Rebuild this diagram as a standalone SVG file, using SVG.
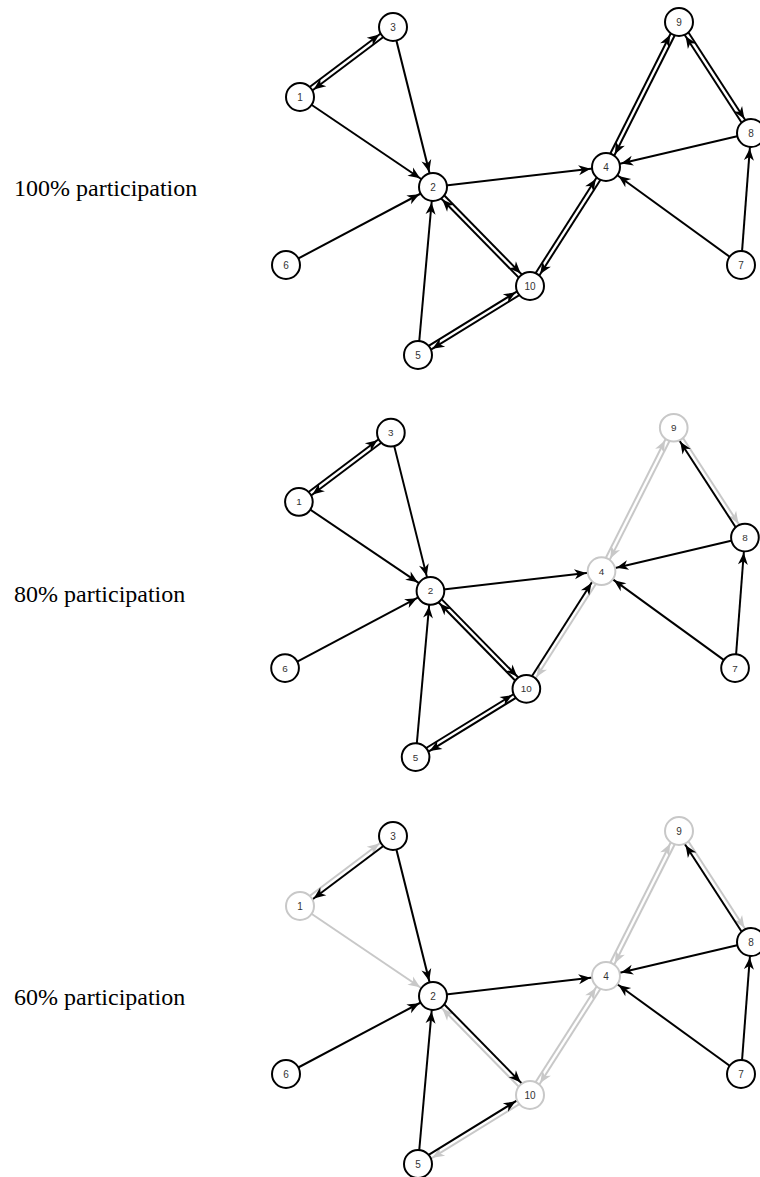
<svg xmlns="http://www.w3.org/2000/svg" width="760" height="1177" viewBox="0 0 760 1177">
  <style>
    .e { fill: none; stroke: #000; stroke-width: 2; marker-end: url(#ah); }
    .g { stroke: #c8c8c8; marker-end: url(#ahg); }
    .n circle { fill: #fff; stroke: #000; stroke-width: 2; }
    .n.off circle { stroke: #c8c8c8; }
    .n text { font-family: "Liberation Sans", Arial, sans-serif; font-size: 10px; fill: #333; text-anchor: middle; dominant-baseline: central; }
    .cap { font-family: "Liberation Serif", "Times New Roman", serif; font-size: 24px; fill: #000; }
  </style>
  <defs>
    <!-- arrowheads stop at the node rim: tip sits 15.5 units before the line end (node centre) -->
    <marker id="ah" markerUnits="userSpaceOnUse" orient="auto" refX="15.5" refY="0" markerWidth="20" markerHeight="20" overflow="visible">
      <path d="M0,0 L-12,-5 L-8.5,0 L-12,5 Z" fill="#000"/>
    </marker>
    <marker id="ahg" markerUnits="userSpaceOnUse" orient="auto" refX="15.5" refY="0" markerWidth="20" markerHeight="20" overflow="visible">
      <path d="M0,0 L-12,-5 L-8.5,0 L-12,5 Z" fill="#c8c8c8"/>
    </marker>
  </defs>

  <rect width="760" height="1177" fill="#fff"/>

  <text class="cap" x="14" y="196">100% participation</text>
  <text class="cap" x="14" y="602">80% participation</text>
  <text class="cap" x="14" y="1005">60% participation</text>

  <!-- ===== 100% ===== -->
  <g id="p100">
    <g id="p100-edges">
      <line class="e" x1="298.68" y1="95.24" x2="391.68" y2="25.24"/>
      <line class="e" x1="394.32" y1="28.76" x2="301.32" y2="98.76"/>
      <line class="e" x1="300" y1="97" x2="433" y2="187"/>
      <line class="e" x1="393" y1="27" x2="433" y2="187"/>
      <line class="e" x1="433" y1="187" x2="606" y2="167"/>
      <line class="e" x1="286" y1="265" x2="433" y2="187"/>
      <line class="e" x1="418" y1="355" x2="433" y2="187"/>
      <line class="e" x1="434.57" y1="185.46" x2="531.57" y2="284.46"/>
      <line class="e" x1="528.43" y1="287.54" x2="431.43" y2="188.54"/>
      <line class="e" x1="416.85" y1="353.13" x2="528.85" y2="284.13"/>
      <line class="e" x1="531.15" y1="287.87" x2="419.15" y2="356.87"/>
      <line class="e" x1="528.15" y1="284.82" x2="604.15" y2="165.82"/>
      <line class="e" x1="607.85" y1="168.18" x2="531.85" y2="287.18"/>
      <line class="e" x1="604.03" y1="166.01" x2="677.03" y2="21.01"/>
      <line class="e" x1="680.97" y1="22.99" x2="607.97" y2="167.99"/>
      <line class="e" x1="680.85" y1="20.8" x2="752.85" y2="131.8"/>
      <line class="e" x1="749.15" y1="134.2" x2="677.15" y2="23.2"/>
      <line class="e" x1="751" y1="133" x2="606" y2="167"/>
      <line class="e" x1="741" y1="265" x2="606" y2="167"/>
      <line class="e" x1="741" y1="265" x2="751" y2="133"/>
    </g>
    <g id="p100-n1" class="n"><circle cx="300" cy="97" r="14"/><text x="300" y="97">1</text></g>
    <g id="p100-n2" class="n"><circle cx="433" cy="187" r="14"/><text x="433" y="187">2</text></g>
    <g id="p100-n3" class="n"><circle cx="393" cy="27" r="14"/><text x="393" y="27">3</text></g>
    <g id="p100-n4" class="n"><circle cx="606" cy="167" r="14"/><text x="606" y="167">4</text></g>
    <g id="p100-n5" class="n"><circle cx="418" cy="355" r="14"/><text x="418" y="355">5</text></g>
    <g id="p100-n6" class="n"><circle cx="286" cy="265" r="14"/><text x="286" y="265">6</text></g>
    <g id="p100-n7" class="n"><circle cx="741" cy="265" r="14"/><text x="741" y="265">7</text></g>
    <g id="p100-n8" class="n"><circle cx="751" cy="133" r="14"/><text x="751" y="133">8</text></g>
    <g id="p100-n9" class="n"><circle cx="679" cy="22" r="14"/><text x="679" y="22">9</text></g>
    <g id="p100-n10" class="n"><circle cx="530" cy="286" r="14"/><text x="530" y="286">10</text></g>
  </g>

  <!-- ===== 80% ===== -->
  <g id="p80" transform="translate(2.2,406) scale(0.989)">
    <g id="p80-edges">
      <line class="e g" x1="604.03" y1="166.01" x2="677.03" y2="21.01"/>
      <line class="e g" x1="680.97" y1="22.99" x2="607.97" y2="167.99"/>
      <line class="e g" x1="680.85" y1="20.8" x2="752.85" y2="131.8"/>
      <line class="e g" x1="607.85" y1="168.18" x2="531.85" y2="287.18"/>
      <line class="e" x1="298.68" y1="95.24" x2="391.68" y2="25.24"/>
      <line class="e" x1="394.32" y1="28.76" x2="301.32" y2="98.76"/>
      <line class="e" x1="300" y1="97" x2="433" y2="187"/>
      <line class="e" x1="393" y1="27" x2="433" y2="187"/>
      <line class="e" x1="433" y1="187" x2="606" y2="167"/>
      <line class="e" x1="286" y1="265" x2="433" y2="187"/>
      <line class="e" x1="418" y1="355" x2="433" y2="187"/>
      <line class="e" x1="434.57" y1="185.46" x2="531.57" y2="284.46"/>
      <line class="e" x1="528.43" y1="287.54" x2="431.43" y2="188.54"/>
      <line class="e" x1="416.85" y1="353.13" x2="528.85" y2="284.13"/>
      <line class="e" x1="531.15" y1="287.87" x2="419.15" y2="356.87"/>
      <line class="e" x1="528.15" y1="284.82" x2="604.15" y2="165.82"/>
      <line class="e" x1="749.15" y1="134.2" x2="677.15" y2="23.2"/>
      <line class="e" x1="751" y1="133" x2="606" y2="167"/>
      <line class="e" x1="741" y1="265" x2="606" y2="167"/>
      <line class="e" x1="741" y1="265" x2="751" y2="133"/>
    </g>
    <g id="p80-n1" class="n"><circle cx="300" cy="97" r="14"/><text x="300" y="97">1</text></g>
    <g id="p80-n2" class="n"><circle cx="433" cy="187" r="14"/><text x="433" y="187">2</text></g>
    <g id="p80-n3" class="n"><circle cx="393" cy="27" r="14"/><text x="393" y="27">3</text></g>
    <g id="p80-n4" class="n off"><circle cx="606" cy="167" r="14"/><text x="606" y="167">4</text></g>
    <g id="p80-n5" class="n"><circle cx="418" cy="355" r="14"/><text x="418" y="355">5</text></g>
    <g id="p80-n6" class="n"><circle cx="286" cy="265" r="14"/><text x="286" y="265">6</text></g>
    <g id="p80-n7" class="n"><circle cx="741" cy="265" r="14"/><text x="741" y="265">7</text></g>
    <g id="p80-n8" class="n"><circle cx="751" cy="133" r="14"/><text x="751" y="133">8</text></g>
    <g id="p80-n9" class="n off"><circle cx="679" cy="22" r="14"/><text x="679" y="22">9</text></g>
    <g id="p80-n10" class="n"><circle cx="530" cy="286" r="14"/><text x="530" y="286">10</text></g>
  </g>

  <!-- ===== 60% ===== -->
  <g id="p60" transform="translate(0,809)">
    <g id="p60-edges">
      <line class="e g" x1="298.68" y1="95.24" x2="391.68" y2="25.24"/>
      <line class="e g" x1="300" y1="97" x2="433" y2="187"/>
      <line class="e g" x1="528.43" y1="287.54" x2="431.43" y2="188.54"/>
      <line class="e g" x1="531.15" y1="287.87" x2="419.15" y2="356.87"/>
      <line class="e g" x1="528.15" y1="284.82" x2="604.15" y2="165.82"/>
      <line class="e g" x1="607.85" y1="168.18" x2="531.85" y2="287.18"/>
      <line class="e g" x1="604.03" y1="166.01" x2="677.03" y2="21.01"/>
      <line class="e g" x1="680.97" y1="22.99" x2="607.97" y2="167.99"/>
      <line class="e g" x1="680.85" y1="20.8" x2="752.85" y2="131.8"/>
      <line class="e" x1="394.32" y1="28.76" x2="301.32" y2="98.76"/>
      <line class="e" x1="393" y1="27" x2="433" y2="187"/>
      <line class="e" x1="433" y1="187" x2="606" y2="167"/>
      <line class="e" x1="286" y1="265" x2="433" y2="187"/>
      <line class="e" x1="418" y1="355" x2="433" y2="187"/>
      <line class="e" x1="434.57" y1="185.46" x2="531.57" y2="284.46"/>
      <line class="e" x1="416.85" y1="353.13" x2="528.85" y2="284.13"/>
      <line class="e" x1="749.15" y1="134.2" x2="677.15" y2="23.2"/>
      <line class="e" x1="751" y1="133" x2="606" y2="167"/>
      <line class="e" x1="741" y1="265" x2="606" y2="167"/>
      <line class="e" x1="741" y1="265" x2="751" y2="133"/>
    </g>
    <g id="p60-n1" class="n off"><circle cx="300" cy="97" r="14"/><text x="300" y="97">1</text></g>
    <g id="p60-n2" class="n"><circle cx="433" cy="187" r="14"/><text x="433" y="187">2</text></g>
    <g id="p60-n3" class="n"><circle cx="393" cy="27" r="14"/><text x="393" y="27">3</text></g>
    <g id="p60-n4" class="n off"><circle cx="606" cy="167" r="14"/><text x="606" y="167">4</text></g>
    <g id="p60-n5" class="n"><circle cx="418" cy="355" r="14"/><text x="418" y="355">5</text></g>
    <g id="p60-n6" class="n"><circle cx="286" cy="265" r="14"/><text x="286" y="265">6</text></g>
    <g id="p60-n7" class="n"><circle cx="741" cy="265" r="14"/><text x="741" y="265">7</text></g>
    <g id="p60-n8" class="n"><circle cx="751" cy="133" r="14"/><text x="751" y="133">8</text></g>
    <g id="p60-n9" class="n off"><circle cx="679" cy="22" r="14"/><text x="679" y="22">9</text></g>
    <g id="p60-n10" class="n off"><circle cx="530" cy="286" r="14"/><text x="530" y="286">10</text></g>
  </g>
</svg>
